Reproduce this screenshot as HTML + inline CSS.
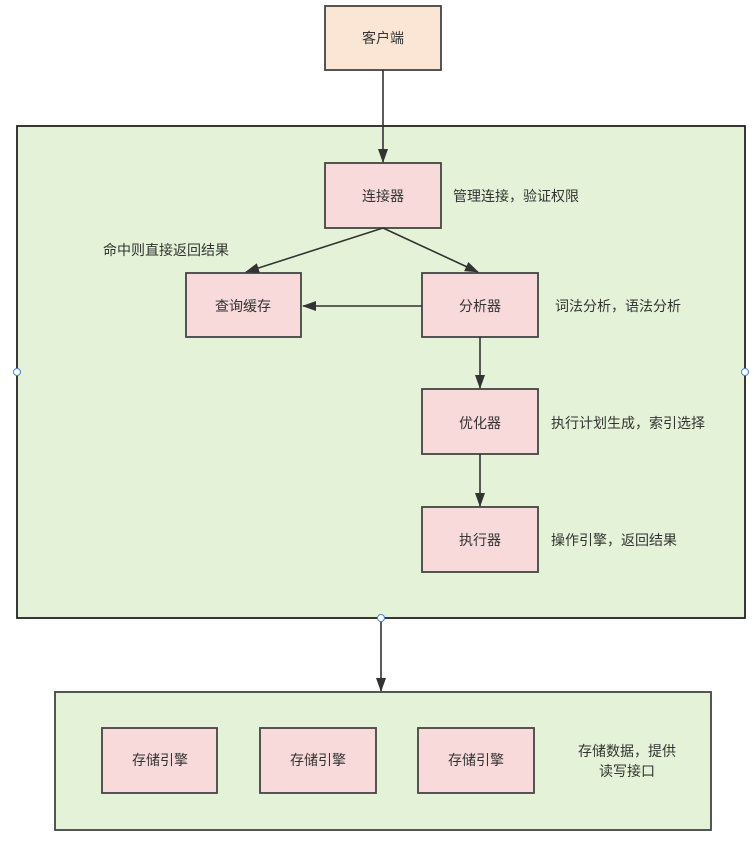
<!DOCTYPE html>
<html><head><meta charset="utf-8"><style>
body{margin:0;background:#fff;}
svg text{font-family:"Liberation Sans","Noto Sans CJK SC",sans-serif;font-size:14px;fill:#333;}
</style></head><body>
<svg width="754" height="851" viewBox="0 0 754 851" xmlns="http://www.w3.org/2000/svg">
<defs><marker id="a" markerWidth="14" markerHeight="12" refX="13" refY="6" orient="auto" markerUnits="userSpaceOnUse"><path d="M0,1 L14,6 L0,11 Z" fill="#333"/></marker></defs>
<rect x="17" y="126" width="728" height="492" fill="#e4f3d7" stroke="#222" stroke-width="1.8"/>
<rect x="55" y="692" width="656" height="138" fill="#e4f3d7" stroke="#444" stroke-width="1.8"/>
<g stroke="#444" stroke-width="1.8">
<rect x="325" y="6" width="116" height="64" fill="#fbe6d5"/>
<rect x="325" y="163" width="116" height="65" fill="#f8dadb"/>
<rect x="186" y="273" width="115" height="64" fill="#f8dadb"/>
<rect x="422" y="273" width="116" height="64" fill="#f8dadb"/>
<rect x="422" y="389" width="116" height="65" fill="#f8dadb"/>
<rect x="422" y="507" width="116" height="65" fill="#f8dadb"/>
<rect x="102" y="728" width="115" height="65" fill="#f8dadb"/>
<rect x="260" y="728" width="116" height="65" fill="#f8dadb"/>
<rect x="418" y="728" width="116" height="65" fill="#f8dadb"/>
</g>
<g stroke="#333" stroke-width="1.6" fill="none" marker-end="url(#a)">
<line x1="383" y1="70" x2="383" y2="162"/>
<line x1="383" y1="228" x2="246" y2="272"/>
<line x1="383" y1="228" x2="478" y2="272"/>
<line x1="422" y1="306" x2="303" y2="306"/>
<line x1="480" y1="337" x2="480" y2="388"/>
<line x1="480" y1="454" x2="480" y2="506"/>
<line x1="381" y1="618" x2="381" y2="691"/>
</g>
<g fill="#fff" stroke="#4a7fe0" stroke-width="1">
<circle cx="17" cy="372" r="3.5"/><circle cx="745" cy="372" r="3.5"/><circle cx="381" cy="618" r="3.5"/>
</g>
<g text-anchor="middle">
<text x="383" y="43">客户端</text>
<text x="383" y="201">连接器</text>
<text x="243" y="311">查询缓存</text>
<text x="480" y="311">分析器</text>
<text x="480" y="428">优化器</text>
<text x="480" y="545">执行器</text>
<text x="160" y="765">存储引擎</text>
<text x="318" y="765">存储引擎</text>
<text x="476" y="765">存储引擎</text>
<text x="627" y="756">存储数据，提供</text>
<text x="627" y="776">读写接口</text>
</g>
<text x="453" y="201">管理连接，验证权限</text>
<text x="103" y="255">命中则直接返回结果</text>
<text x="555" y="311">词法分析，语法分析</text>
<text x="551" y="428">执行计划生成，索引选择</text>
<text x="551" y="545">操作引擎，返回结果</text>
</svg>
</body></html>
